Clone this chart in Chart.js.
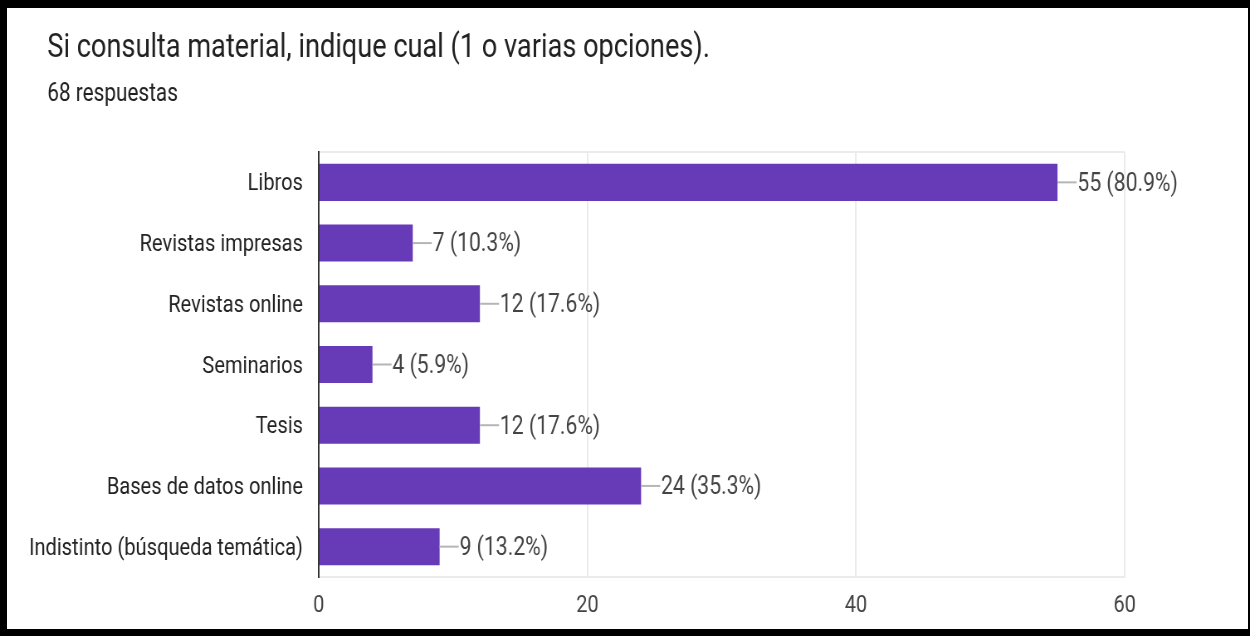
<!DOCTYPE html>
<html>
<head>
<meta charset="utf-8">
<script src="https://cdn.jsdelivr.net/npm/chart.js@4.4.1/dist/chart.umd.min.js"></script>
<style>
  html, body { margin: 0; padding: 0; background: #fff; }
  body { width: 1250px; height: 636px; position: relative; overflow: hidden; }
  #chart { position: absolute; left: 0; top: 0; transform: scaleX(0.83); transform-origin: 0 0; }
  #frame {
    position: absolute; left: 0; top: 0; width: 1250px; height: 636px;
    box-sizing: border-box; border: solid #000; border-width: 8px 2px 7px 7px;
    pointer-events: none;
  }
</style>
</head>
<body>
<canvas id="chart" width="1506" height="636"></canvas>
<div id="frame"></div>
<script>
const titleText = 'Si consulta material, indique cual (1 o varias opciones).';
const totalResponses = 68;
const categories = [
  'Libros',
  'Revistas impresas',
  'Revistas online',
  'Seminarios',
  'Tesis',
  'Bases de datos online',
  'Indistinto (búsqueda temática)'
];
const counts = [55, 7, 12, 4, 12, 24, 9];
const xTicks = [0, 20, 40, 60];

const FONT = 'Roboto, "Noto Sans", sans-serif';

// título y número de respuestas
const headerPlugin = {
  id: 'header',
  afterDraw(chart) {
    const c = chart.ctx;
    c.save();
    c.fillStyle = '#212121';
    c.textBaseline = 'alphabetic';
    c.textAlign = 'left';
    c.font = '32.7px ' + FONT;
    c.fillText(titleText, 57, 57);
    c.font = '25px ' + FONT;
    c.fillText(totalResponses + ' respuestas', 57, 101);
    c.restore();
  }
};

// etiqueta "n (x%)" con su línea guía al final de cada barra
const valueLabels = {
  id: 'valueLabels',
  afterDatasetsDraw(chart) {
    const c = chart.ctx;
    const meta = chart.getDatasetMeta(0);
    c.save();
    c.font = '25.5px ' + FONT;
    c.textBaseline = 'middle';
    c.textAlign = 'left';
    meta.data.forEach((bar, i) => {
      const v = counts[i];
      const pct = (v / totalResponses * 100).toFixed(1);
      c.strokeStyle = '#b5b5b5';
      c.lineWidth = 2;
      c.beginPath();
      c.moveTo(bar.x, bar.y);
      c.lineTo(bar.x + 23, bar.y);
      c.stroke();
      c.fillStyle = '#444';
      c.fillText(v + ' (' + pct + '%)', bar.x + 24, bar.y + 2);
    });
    c.restore();
  }
};

new Chart(document.getElementById('chart'), {
  type: 'bar',
  data: {
    labels: categories,
    datasets: [{
      data: counts,
      backgroundColor: '#673ab7',
      borderWidth: 0,
      barPercentage: 0.61,
      categoryPercentage: 1
    }]
  },
  options: {
    indexAxis: 'y',
    responsive: false,
    animation: false,
    layout: { padding: { top: 152, right: 151, bottom: 0, left: 0 } },
    scales: {
      x: {
        min: 0,
        max: 60,
        afterFit(scale) { scale.height = 59; },
        afterBuildTicks(scale) { scale.ticks = xTicks.map(v => ({ value: v })); },
        grid: { color: '#ebebeb', lineWidth: 2, drawTicks: false },
        border: { color: '#ebebeb', width: 2 },
        ticks: { color: '#444', font: { family: FONT, size: 24 }, padding: 15 }
      },
      y: {
        afterFit(scale) { scale.width = 384; },
        grid: {
          drawTicks: false,
          lineWidth: 2,
          color: ctx => (ctx.index === 0 || ctx.index === categories.length) ? '#ebebeb' : 'rgba(0,0,0,0)'
        },
        border: { color: '#333', width: 2 },
        ticks: { color: '#222', font: { family: FONT, size: 24.2 }, padding: 19, labelOffset: 2 }
      }
    },
    plugins: {
      legend: { display: false },
      tooltip: { enabled: false }
    }
  },
  plugins: [headerPlugin, valueLabels]
});
</script>
</body>
</html>
